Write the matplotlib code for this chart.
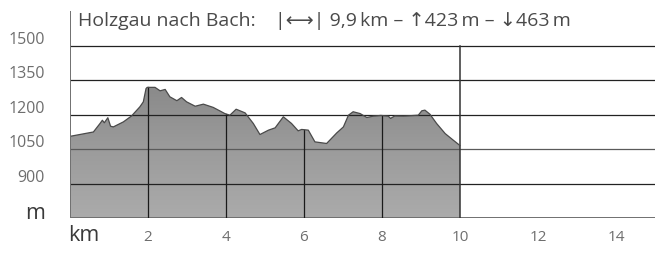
import numpy as np
import matplotlib
matplotlib.use("Agg")
import matplotlib.pyplot as plt
from matplotlib.patches import Polygon
from matplotlib.colors import LinearSegmentedColormap

# elevation profile
km = [0, 0.6, 0.77, 0.83, 0.88, 0.97, 1.04, 1.11, 1.37, 1.58, 1.79, 1.88, 1.95, 1.98,
      2.18, 2.31, 2.44, 2.56, 2.74, 2.86, 2.99, 3.21, 3.42, 3.67, 3.85, 3.97, 4.10,
      4.26, 4.49, 4.70, 4.87, 5.09, 5.26, 5.47, 5.68, 5.85, 5.94, 6.11, 6.28, 6.58,
      6.84, 7.01, 7.14, 7.26, 7.44, 7.61, 7.78, 7.97, 8.16, 8.22, 8.33, 8.55, 8.93,
      9.02, 9.10, 9.23, 9.40, 9.62, 9.83, 10.0]
elev = [1105, 1124, 1161, 1175, 1164, 1186, 1149, 1146, 1168, 1194, 1233, 1255, 1313, 1318,
        1318, 1303, 1309, 1277, 1260, 1274, 1255, 1236, 1245, 1231, 1215, 1204, 1197,
        1223, 1207, 1161, 1113, 1132, 1142, 1190, 1161, 1129, 1135, 1132, 1081, 1074,
        1120, 1146, 1197, 1212, 1204, 1187, 1193, 1196, 1193, 1183, 1194, 1193, 1197,
        1216, 1219, 1201, 1161, 1117, 1088, 1065]

y_ticks = [900, 1050, 1200, 1350, 1500]
x_ticks = [2, 4, 6, 8, 10, 12, 14]
title_name = "Holzgau nach Bach:"
title_stats = "|⟷| 9,9\u2009km – ↑423\u2009m – ↓463\u2009m"

plt.rcParams["font.family"] = ["Open Sans", "DejaVu Sans"]

fig = plt.figure(figsize=(6.55, 2.55), dpi=100)
ax = fig.add_axes([70 / 655, 36 / 255, 585 / 655, 207 / 255])
ax.set_xlim(0, 15)
ax.set_ylim(750, 1650)
ax.axis("off")

# gradient fill clipped to the profile (light at bottom, darker at top)
cmap = LinearSegmentedColormap.from_list("prof", ["#ababab", "#9c9c9c", "#8a8a8a"])
grad = np.linspace(0, 1, 256).reshape(-1, 1)
img = ax.imshow(grad, extent=[0, 15, 750, 1320], origin="lower", aspect="auto",
                cmap=cmap, zorder=1)
poly_xy = [(km[0], 750)] + list(zip(km, elev)) + [(km[-1], 750)]
poly = Polygon(poly_xy, closed=True, facecolor="none", edgecolor="none")
ax.add_patch(poly)
img.set_clip_path(poly)
ax.plot(km, elev, color="#4a4a4a", lw=0.9, zorder=3)

# horizontal grid
for t in y_ticks:
    c = "#5a5a5a" if t == 1050 else "#222222"
    ax.plot([0, 15], [t, t], color=c, lw=0.9, zorder=2)
ax.plot([0, 15], [750, 750], color="#707070", lw=1.4, zorder=2)
ax.plot([0, 0], [750, 1650], color="#707070", lw=1.4, zorder=4)

# vertical lines inside the profile
for t in [2, 4, 6, 8]:
    top = np.interp(t, km, elev)
    ax.plot([t, t], [750, top], color="#1a1a1a", lw=0.9, zorder=2)
ax.plot([10, 10], [750, 1500], color="#333333", lw=1.1, zorder=2)

# labels
for t in y_ticks:
    ax.text(-0.64, t + 12, str(t), ha="right", va="baseline", fontsize=11.5,
            color="#6e6e6e")
ax.text(-0.64, 752, "m", ha="right", va="baseline", fontsize=15.5, color="#3a3a3a")
for t in x_ticks:
    ax.text(t, 654, str(t), ha="center", va="baseline", fontsize=11, color="#6e6e6e")
ax.text(-0.06, 654, "km", ha="left", va="baseline", fontsize=15.5, color="#3a3a3a")

ax.text(0.2, 1610, title_name, ha="left", va="center", fontsize=14, color="#4a4a4a")
ax.text(5.25, 1610, title_stats, ha="left", va="center", fontsize=14, color="#4a4a4a")

fig.savefig("out.png", dpi=100)
